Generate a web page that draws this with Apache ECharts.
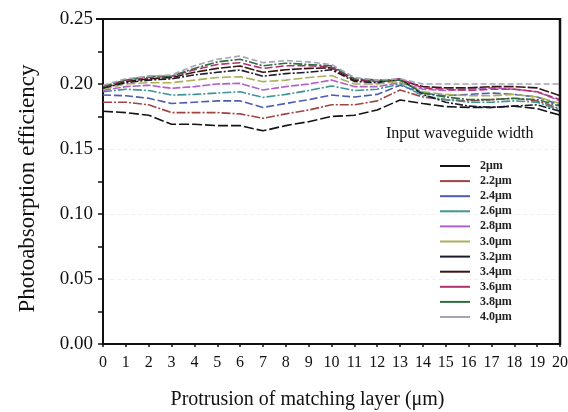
<!DOCTYPE html>
<html>
<head>
<meta charset="utf-8">
<script src="https://cdn.jsdelivr.net/npm/echarts@6/dist/echarts.min.js"></script>
<style>
  html, body { margin: 0; padding: 0; background: #fff; }
  #chart { width: 568px; height: 412px; }
</style>
</head>
<body>
<div id="chart"></div>
<script>
// Protrusion of matching layer (µm)
const protrusion = [0,1,2,3,4,5,6,7,8,9,10,11,12,13,14,15,16,17,18,19,20];

// Photoabsorption efficiency per input waveguide width
const w20 = [0.179,0.178,0.176,0.169,0.169,0.168,0.168,0.164,0.168,0.171,0.175,0.176,0.180,0.1877,0.185,0.1826,0.182,0.182,0.183,0.181,0.176];
const w22 = [0.186,0.186,0.184,0.178,0.178,0.178,0.177,0.1736,0.177,0.180,0.184,0.184,0.187,0.1954,0.190,0.188,0.187,0.188,0.189,0.187,0.181];
const w24 = [0.1915,0.191,0.189,0.185,0.186,0.187,0.187,0.182,0.185,0.188,0.1915,0.190,0.192,0.199,0.193,0.191,0.192,0.193,0.192,0.190,0.184];
const w26 = [0.194,0.196,0.195,0.1915,0.192,0.193,0.194,0.1897,0.192,0.195,0.1985,0.195,0.196,0.200,0.191,0.188,0.186,0.186,0.187,0.186,0.180];
const w28 = [0.195,0.198,0.199,0.1967,0.198,0.200,0.2005,0.1954,0.198,0.200,0.203,0.198,0.198,0.201,0.196,0.195,0.196,0.197,0.196,0.194,0.187];
const w30 = [0.196,0.200,0.201,0.201,0.203,0.205,0.2056,0.2018,0.203,0.205,0.2065,0.200,0.200,0.202,0.194,0.192,0.191,0.191,0.192,0.190,0.185];
const w32 = [0.197,0.201,0.203,0.204,0.207,0.209,0.2108,0.206,0.208,0.209,0.211,0.202,0.201,0.204,0.192,0.186,0.183,0.182,0.183,0.184,0.179];
const w34 = [0.197,0.202,0.204,0.205,0.209,0.212,0.2138,0.209,0.211,0.212,0.2125,0.203,0.202,0.203,0.198,0.197,0.197,0.198,0.198,0.197,0.191];
const w36 = [0.198,0.203,0.205,0.206,0.211,0.215,0.2164,0.212,0.214,0.214,0.213,0.204,0.202,0.204,0.197,0.196,0.195,0.196,0.196,0.194,0.188];
const w38 = [0.198,0.203,0.206,0.206,0.212,0.217,0.219,0.214,0.216,0.215,0.214,0.204,0.203,0.203,0.193,0.190,0.188,0.188,0.189,0.188,0.183];
const w40 = [0.199,0.204,0.206,0.207,0.214,0.219,0.2215,0.2164,0.218,0.217,0.215,0.205,0.203,0.204,0.200,0.200,0.200,0.200,0.200,0.200,0.200];

const widthNames = ['2μm','2.2μm','2.4μm','2.6μm','2.8μm','3.0μm','3.2μm','3.4μm','3.6μm','3.8μm','4.0μm'];
const widthValues = [w20,w22,w24,w26,w28,w30,w32,w34,w36,w38,w40];
const widthColors = ['#151515','#a04444','#4c5cb0','#3f9494','#b060c8','#acae5c','#1c1c30','#3c1414','#b03070','#2f6e3c','#a4a4bc'];
const dashes = [[10,3],[9,2,2,2],[8,3],[9,2,2,2],[8,2],[9,3],[8,2,2,2],[10,2],[8,3],[9,2,2,2],[6,3]];

const serif = '"Liberation Serif", "DejaVu Serif", serif';

const series = widthNames.map((name, i) => ({
  name: name,
  type: 'line',
  symbol: 'none',
  data: protrusion.map((x, j) => [x, widthValues[i][j]]),
  lineStyle: { color: widthColors[i], width: 1.6, type: dashes[i] },
  itemStyle: { color: widthColors[i] },
  z: 3
}));

const chart = echarts.init(document.getElementById('chart'), null, { renderer: 'canvas' });
chart.setOption({
  animation: false,
  backgroundColor: '#ffffff',
  grid: { left: 103, right: 8, top: 19, bottom: 68, show: false, outerBoundsMode: 'none', containLabel: false },
  title: {
    text: 'Input waveguide width',
    left: 381, top: 121,
    textStyle: { fontFamily: serif, fontSize: 16, fontWeight: 'normal', color: '#111' }
  },
  legend: {
    orient: 'vertical',
    left: 435, top: 155,
    itemWidth: 30, itemHeight: 10, itemGap: 3.1,
    icon: 'path://M0,4 L30,4 L30,6 L0,6 Z',
    data: widthNames,
    textStyle: { fontFamily: serif, fontSize: 12, fontWeight: 'bold', color: '#222', padding: [0,0,0,5] }
  },
  xAxis: {
    type: 'value', min: 0, max: 20, interval: 1,
    name: 'Protrusion of matching layer (μm)',
    nameLocation: 'middle', nameGap: 46,
    nameTextStyle: { fontFamily: serif, fontSize: 20, color: '#111', padding: [0, 48, 0, 0] },
    axisLine: { show: true, lineStyle: { color: '#111', width: 2 } },
    axisTick: { show: true, length: 3, lineStyle: { color: '#111', width: 1.5 } },
    axisLabel: { fontFamily: serif, fontSize: 16, color: '#111', margin: 11 },
    splitLine: { show: false }
  },
  yAxis: {
    type: 'value', min: 0, max: 0.25, interval: 0.05,
    name: 'Photoabsorption efficiency',
    nameLocation: 'middle', nameGap: 64,
    nameTextStyle: { fontFamily: serif, fontSize: 23, color: '#111', padding: [0, 14, 0, 0] },
    axisLine: { show: true, lineStyle: { color: '#111', width: 2 } },
    axisTick: { show: true, length: 5, lineStyle: { color: '#111', width: 1.5 } },
    minorTick: { show: true, splitNumber: 2, length: 5, lineStyle: { color: '#111', width: 1.5 } },
    axisLabel: { fontFamily: serif, fontSize: 19, color: '#111', margin: 10,
      formatter: v => v.toFixed(2) },
    splitLine: { show: true, lineStyle: { color: '#f0f0f0', width: 1, type: [4,3] } }
  },
  graphic: [
    // frame on the top and right of the plot area
    { type: 'line', shape: { x1: 96, y1: 19, x2: 561, y2: 19 }, style: { stroke: '#111', lineWidth: 2 }, z: 10 },
    { type: 'line', shape: { x1: 560, y1: 18, x2: 560, y2: 345 }, style: { stroke: '#111', lineWidth: 2.5 }, z: 10 }
  ],
  series: series
});
</script>
</body>
</html>
